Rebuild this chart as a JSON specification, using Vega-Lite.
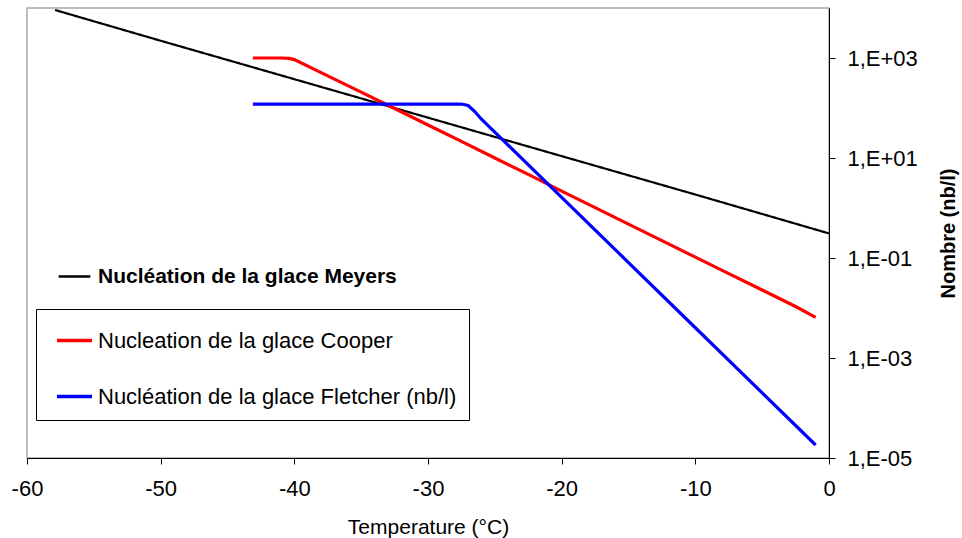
{
  "$schema": "https://vega.github.io/schema/vega-lite/v6.json",
  "width": 802,
  "height": 450,
  "autosize": {"type": "none"},
  "padding": {"left": 27, "top": 8, "right": 133, "bottom": 80},
  "background": "white",
  "config": {
    "font": "Liberation Sans",
    "view": {"stroke": "#a8a8a8", "strokeWidth": 1.5},
    "axis": {"grid": false, "domainColor": "black", "tickColor": "black", "labelColor": "black", "titleColor": "black", "labelFont": "Liberation Sans", "titleFont": "Liberation Sans"}
  },
  "data": {
    "values": [
      {"s": "Nucléation de la glace Meyers", "T": -57.9, "N": 9120},
      {"s": "Nucléation de la glace Meyers", "T": -50, "N": 2213},
      {"s": "Nucléation de la glace Meyers", "T": -40, "N": 377},
      {"s": "Nucléation de la glace Meyers", "T": -30, "N": 64.1},
      {"s": "Nucléation de la glace Meyers", "T": -20, "N": 10.9},
      {"s": "Nucléation de la glace Meyers", "T": -10, "N": 1.86},
      {"s": "Nucléation de la glace Meyers", "T": 0, "N": 0.31},

      {"s": "Nucleation de la glace Cooper", "T": -43.1, "N": 1000},
      {"s": "Nucleation de la glace Cooper", "T": -41, "N": 1000},
      {"s": "Nucleation de la glace Cooper", "T": -40.4, "N": 980},
      {"s": "Nucleation de la glace Cooper", "T": -40, "N": 930},
      {"s": "Nucleation de la glace Cooper", "T": -37.5, "N": 440},
      {"s": "Nucleation de la glace Cooper", "T": -35, "N": 208},
      {"s": "Nucleation de la glace Cooper", "T": -32.5, "N": 98},
      {"s": "Nucleation de la glace Cooper", "T": -30, "N": 45.6},
      {"s": "Nucleation de la glace Cooper", "T": -27.5, "N": 21.5},
      {"s": "Nucleation de la glace Cooper", "T": -25, "N": 10},
      {"s": "Nucleation de la glace Cooper", "T": -22.5, "N": 4.7},
      {"s": "Nucleation de la glace Cooper", "T": -20, "N": 2.18},
      {"s": "Nucleation de la glace Cooper", "T": -17.5, "N": 1.02},
      {"s": "Nucleation de la glace Cooper", "T": -15, "N": 0.477},
      {"s": "Nucleation de la glace Cooper", "T": -12.5, "N": 0.223},
      {"s": "Nucleation de la glace Cooper", "T": -10, "N": 0.104},
      {"s": "Nucleation de la glace Cooper", "T": -7.5, "N": 0.0488},
      {"s": "Nucleation de la glace Cooper", "T": -5, "N": 0.0229},
      {"s": "Nucleation de la glace Cooper", "T": -2.5, "N": 0.0107},
      {"s": "Nucleation de la glace Cooper", "T": -1, "N": 0.0065},

      {"s": "Nucléation de la glace Fletcher (nb/l)", "T": -43.1, "N": 120},
      {"s": "Nucléation de la glace Fletcher (nb/l)", "T": -27.5, "N": 120},
      {"s": "Nucléation de la glace Fletcher (nb/l)", "T": -27, "N": 112},
      {"s": "Nucléation de la glace Fletcher (nb/l)", "T": -26.5, "N": 85},
      {"s": "Nucléation de la glace Fletcher (nb/l)", "T": -26, "N": 59.7},
      {"s": "Nucléation de la glace Fletcher (nb/l)", "T": -20, "N": 1.63},
      {"s": "Nucléation de la glace Fletcher (nb/l)", "T": -15, "N": 0.081},
      {"s": "Nucléation de la glace Fletcher (nb/l)", "T": -10, "N": 0.00403},
      {"s": "Nucléation de la glace Fletcher (nb/l)", "T": -5, "N": 0.0002},
      {"s": "Nucléation de la glace Fletcher (nb/l)", "T": -1, "N": 0.0000182}
    ]
  },
  "encoding": {
    "x": {
      "field": "T", "type": "quantitative",
      "scale": {"domain": [-60, 0], "nice": false, "zero": false},
      "axis": {"orient": "bottom", "values": [-60, -50, -40, -30, -20, -10, 0], "tickSize": 6, "labelFontSize": 22, "labelPadding": 14, "labelExpr": "toString(datum.value)", "title": "Temperature (°C)", "titleFontSize": 21, "titleFontWeight": "normal", "titlePadding": 17, "labelFlush": false}
    },
    "y": {
      "field": "N", "type": "quantitative",
      "scale": {"type": "log", "domain": [0.00001, 10000], "nice": false},
      "axis": {"orient": "right", "values": [0.00001, 0.001, 0.1, 10, 1000], "tickSize": 6, "labelFontSize": 22, "labelPadding": 12,
        "labelExpr": "'1,E' + (round(log(datum.value)/LN10) >= 0 ? '+' : '-') + '0' + abs(round(log(datum.value)/LN10))",
        "title": "Nombre (nb/l)", "titleFontSize": 20, "titleFontWeight": "bold", "titleAngle": 270, "titlePadding": 41}
    }
  },
  "layer": [
    {
      "transform": [{"filter": "datum.s === 'Nucléation de la glace Meyers'"}],
      "mark": {"type": "line", "color": "black", "strokeWidth": 2.2},
      "encoding": {
        "strokeDash": {
          "field": "s", "type": "nominal",
          "scale": {"domain": ["Nucléation de la glace Meyers"], "range": [[1, 0]]},
          "legend": {"title": null, "orient": "none", "legendX": 30, "legendY": 251, "padding": 0, "symbolType": "stroke", "symbolSize": 1000, "symbolStrokeWidth": 2.5, "symbolStrokeColor": "black", "labelFont": "Liberation Sans", "labelFontSize": 21, "labelFontWeight": "bold", "labelColor": "black", "labelOffset": 6, "labelLimit": 500}
        }
      }
    },
    {
      "transform": [{"filter": "datum.s !== 'Nucléation de la glace Meyers'"}],
      "mark": {"type": "line", "strokeWidth": 3.2},
      "encoding": {
        "color": {
          "field": "s", "type": "nominal",
          "scale": {"domain": ["Nucleation de la glace Cooper", "Nucléation de la glace Fletcher (nb/l)"], "range": ["#ff0000", "#0000ff"]},
          "legend": {"title": null, "orient": "none", "legendX": 9, "legendY": 301, "padding": 12, "strokeColor": "black", "symbolType": "stroke", "symbolSize": 1225, "symbolStrokeWidth": 3.5, "symbolOffset": 7, "labelFont": "Liberation Sans", "labelFontSize": 22, "labelColor": "black", "labelOffset": 4, "rowPadding": 25, "labelLimit": 500}
        }
      }
    }
  ]
}
